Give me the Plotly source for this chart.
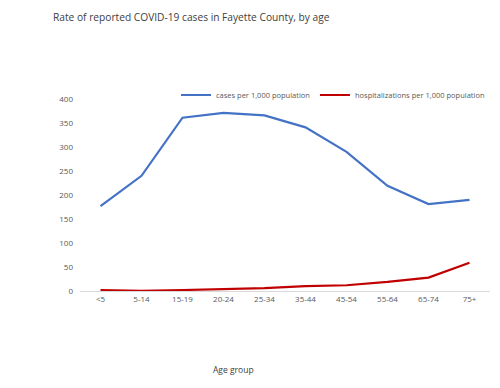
import plotly.graph_objects as go

age_groups = ["<5", "5-14", "15-19", "20-24", "25-34", "35-44", "45-54", "55-64", "65-74", "75+"]
cases_per_1000 = [177, 240, 361, 371, 366, 341, 290, 219, 181, 190]
hosp_per_1000 = [2, 0.5, 2, 4, 6, 10, 12, 19, 28, 59]
y_ticks = [0, 50, 100, 150, 200, 250, 300, 350, 400]

font_family = "Open Sans, Liberation Sans, sans-serif"
grey = "#595959"

# page body has an 8px default margin; figure is sized to fill the rest of the window
W, H = 492, 380

fig = go.Figure()
fig.add_trace(go.Scatter(x=age_groups, y=cases_per_1000, mode="lines",
                         name="cases per 1,000 population",
                         line=dict(color="#4472C4", width=2.2)))
fig.add_trace(go.Scatter(x=age_groups, y=hosp_per_1000, mode="lines",
                         name="hospitalizations per 1,000 population",
                         line=dict(color="#C00000", width=2.2)))

fig.update_layout(
    width=W, height=H,
    margin=dict(l=72, r=10, t=91, b=97),
    paper_bgcolor="white", plot_bgcolor="white",
    font=dict(family=font_family, size=8, color=grey),
    title=dict(text="Rate of reported COVID-19 cases in Fayette County, by age",
               x=45/W, xanchor="left", y=1-9/H, yanchor="middle",
               font=dict(size=10.2, color="#404040")),
    legend=dict(orientation="h", x=1.0, xanchor="right", y=1 + 4/192, yanchor="middle",
                font=dict(size=7.5, color=grey), itemwidth=30, bgcolor="rgba(0,0,0,0)",
                tracegroupgap=0),
    xaxis=dict(type="category", range=[-0.5, 9.5], showgrid=False,
               showline=True, linecolor="#d9d9d9", linewidth=1,
               ticks="", tickfont=dict(size=8, color=grey), automargin=False),
    yaxis=dict(range=[0, 400], tickvals=y_ticks, showgrid=False, zeroline=False,
               showline=False, ticks="", tickfont=dict(size=8, color=grey),
               ticklabelstandoff=6, automargin=False),
    showlegend=True,
)
fig.add_annotation(text="Age group", x=(225-72)/410, xref="paper", xanchor="center",
                   y=-(361-283)/192, yref="paper", yanchor="middle", showarrow=False,
                   font=dict(size=8.5, color="#404040"))

fig.write_html("out.html")
